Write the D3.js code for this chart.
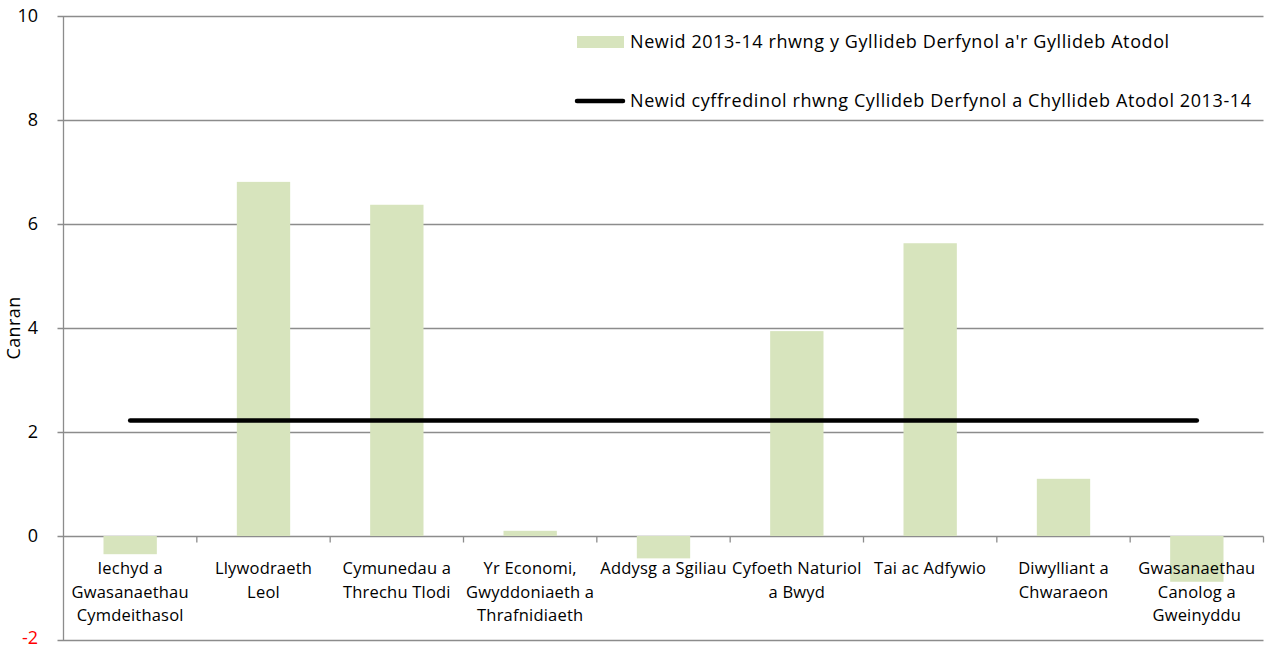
<!DOCTYPE html>
<html>
<head>
<meta charset="utf-8">
<script src="https://cdn.jsdelivr.net/npm/d3@7"></script>
<style>
html,body{margin:0;padding:0;background:#fff;}
svg{display:block;}
text{font-family:"Open Sans",Lato,sans-serif;fill:#000;}
</style>
</head>
<body>
<svg id="chart" width="1268" height="650"></svg>
<script>
const categories = [
  ["Iechyd a","Gwasanaethau","Cymdeithasol"],
  ["Llywodraeth","Leol"],
  ["Cymunedau a","Threchu Tlodi"],
  ["Yr Economi,","Gwyddoniaeth a","Thrafnidiaeth"],
  ["Addysg a Sgiliau"],
  ["Cyfoeth Naturiol","a Bwyd"],
  ["Tai ac Adfywio"],
  ["Diwylliant a","Chwaraeon"],
  ["Gwasanaethau","Canolog a","Gweinyddu"]
];
const barValues = [-0.35, 6.81, 6.37, 0.10, -0.43, 3.94, 5.63, 1.10, -0.88];
const overallChange = [2.22, 2.22, 2.22, 2.22, 2.22, 2.22, 2.22, 2.22, 2.22];
const yTicks = [-2, 0, 2, 4, 6, 8, 10];
const barLabel = "Newid 2013-14 rhwng y Gyllideb Derfynol a'r Gyllideb Atodol";
const lineLabel = "Newid cyffredinol rhwng Cyllideb Derfynol a Chyllideb Atodol 2013-14";
const yTitle = "Canran";

(function(){
const svg = d3.select("#chart");
const pL = 63.5, pR = 1263.5, pT = 16, pB = 640;
const idx = categories.map((d,i)=>i);
const x = d3.scaleBand().domain(idx).range([pL, pR]).paddingInner(0.6).paddingOuter(0.3);
const xc = d3.scaleBand().domain(idx).range([pL, pR]);
const y = d3.scaleLinear().domain([-2, 10]).range([pB, pT]);
const grid = "#8c8c8c";

svg.append("g").selectAll("line").data(yTicks).join("line")
  .attr("x1", pL-6).attr("x2", pR)
  .attr("y1", d=>Math.round(y(d))+0.5).attr("y2", d=>Math.round(y(d))+0.5)
  .attr("stroke", grid).attr("stroke-width", 1.3);

svg.append("g").selectAll("text").data(yTicks).join("text")
  .attr("x", 38).attr("y", d=>y(d))
  .attr("dy", d=> d<0 ? "0.22em" : "0.36em")
  .attr("text-anchor", "end")
  .attr("font-size", 18)
  .style("fill", d=> d<0 ? "#ff0000" : "#000")
  .text(d=>d);

svg.append("g").selectAll("rect").data(barValues).join("rect")
  .attr("x", (d,i)=>x(i))
  .attr("width", x.bandwidth())
  .attr("y", d=>y(Math.max(0,d)))
  .attr("height", d=>Math.abs(y(d)-y(0)))
  .attr("fill", "#d7e4bd");

svg.append("line").attr("x1", pL).attr("x2", pL).attr("y1", pT).attr("y2", pB)
  .attr("stroke", grid).attr("stroke-width", 1.3);

const zy = Math.round(y(0))+0.5;
svg.append("g").selectAll("line").data(d3.range(1, categories.length+1)).join("line")
  .attr("x1", i=> i<categories.length ? xc(i) : pR).attr("x2", i=> i<categories.length ? xc(i) : pR)
  .attr("y1", zy).attr("y2", zy+6)
  .attr("stroke", grid).attr("stroke-width", 1.3);

const lab = svg.append("g").selectAll("text").data(categories).join("text")
  .attr("text-anchor", "middle")
  .attr("font-size", 16.5)
  .attr("letter-spacing", 0.2)
  .attr("x", (d,i)=>xc(i)+xc.bandwidth()/2)
  .attr("y", 574);
lab.selectAll("tspan").data(d=>d).join("tspan")
  .attr("x", function(){return this.parentNode.getAttribute("x");})
  .attr("dy", (d,i)=> i===0 ? 0 : 23.5)
  .text(d=>d);

const line = d3.line().x((d,i)=>xc(i)+xc.bandwidth()/2).y(d=>y(d));
svg.append("path").datum(overallChange)
  .attr("d", line).attr("fill","none").attr("stroke","#000")
  .attr("stroke-width", 4.5).attr("stroke-linecap","round");

svg.append("text").attr("transform", `translate(20,${(pT+pB)/2}) rotate(-90)`)
  .attr("text-anchor","middle").attr("font-size",18).attr("letter-spacing",0.4).text(yTitle);

const lg = svg.append("g");
lg.append("rect").attr("x",577).attr("y",36).attr("width",47).attr("height",12).attr("fill","#d7e4bd");
lg.append("text").attr("x",630).attr("y",42).attr("dy","0.36em").attr("font-size",18).attr("letter-spacing",0.6).text(barLabel);
lg.append("line").attr("x1",577).attr("x2",623).attr("y1",101).attr("y2",101)
  .attr("stroke","#000").attr("stroke-width",4.5).attr("stroke-linecap","round");
lg.append("text").attr("x",630).attr("y",101).attr("dy","0.36em").attr("font-size",18).attr("letter-spacing",0.6).text(lineLabel);
})();
</script>
</body>
</html>
